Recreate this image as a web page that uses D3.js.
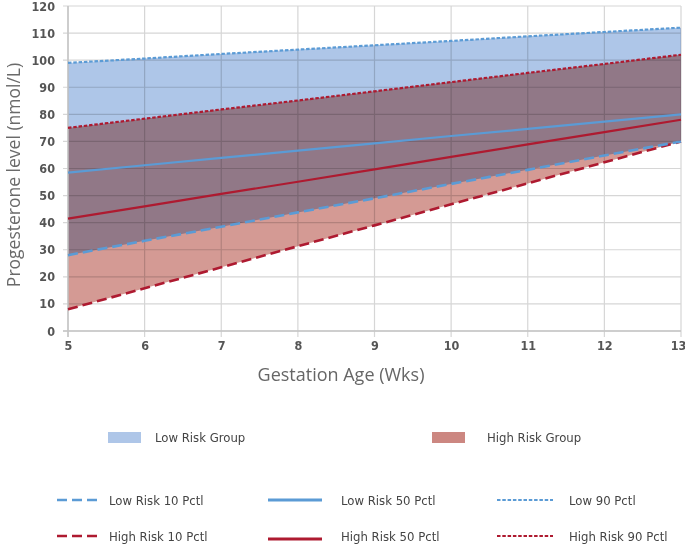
<!DOCTYPE html>
<html><head><meta charset="utf-8">
<script src="https://cdn.jsdelivr.net/npm/d3@7"></script>
<style>
body{margin:0;background:#fff;}
svg{display:block;}
</style></head>
<body><svg id="c" width="685" height="544"></svg>
<script>
const weeks = [5,6,7,8,9,10,11,12,13];
const low10  = [28, 33.3, 38.5, 43.8, 49, 54.3, 59.5, 64.8, 70];
const low50  = [58.5, 61.2, 63.9, 66.6, 69.3, 72, 74.6, 77.3, 80];
const low90  = [99, 100.6, 102.3, 103.9, 105.5, 107.1, 108.8, 110.4, 112];
const high10 = [8, 15.8, 23.5, 31.3, 39, 46.8, 54.5, 62.3, 70];
const high50 = [41.5, 46, 50.6, 55.1, 59.7, 64.3, 68.9, 73.4, 78];
const high90 = [75, 78.4, 81.8, 85.1, 88.5, 91.9, 95.3, 98.6, 102];
const yTicks = [0,10,20,30,40,50,60,70,80,90,100,110,120];
const groupLegend = ["Low Risk Group","High Risk Group"];
const lineLegend = ["Low Risk 10 Pctl","Low Risk 50 Pctl","Low 90 Pctl","High Risk 10 Pctl","High Risk 50 Pctl","High Risk 90 Pctl"];

const BLUE_FILL="#aec6e8", RED_FILL="#d49a94", BLUE="#5b9bd5", RED="#ae1a30";
const svg = d3.select("#c");
const L=68, R=681, T=6, B=331;
const x = d3.scaleLinear().domain([5,13]).range([L,R]);
const y = d3.scaleLinear().domain([0,120]).range([B,T]);
const narrow = "'Liberation Sans Narrow','DejaVu Sans Condensed',sans-serif";

const area = (lo,hi)=>d3.area().x((d,i)=>x(weeks[i])).y0((d,i)=>y(lo[i])).y1((d,i)=>y(hi[i]))(weeks);
const line = (v)=>d3.line().x((d,i)=>x(weeks[i])).y((d,i)=>y(v[i]))(weeks);

svg.append("path").attr("d",area(low10,low90)).attr("fill",BLUE_FILL);
svg.append("path").attr("d",area(high10,high90)).attr("fill",RED_FILL).style("mix-blend-mode","multiply");

// grid
const g = svg.append("g").style("mix-blend-mode","multiply");
g.selectAll(".h").data(yTicks).join("line")
 .attr("x1",L-5).attr("x2",R).attr("y1",d=>y(d)).attr("y2",d=>y(d))
 .attr("stroke","#d6d6d6").attr("stroke-width",1.2);
g.selectAll(".v").data(weeks).join("line")
 .attr("x1",d=>x(d)).attr("x2",d=>x(d)).attr("y1",T).attr("y2",B+6)
 .attr("stroke","#d6d6d6").attr("stroke-width",1.2);
svg.append("line").attr("x1",L).attr("x2",L).attr("y1",T).attr("y2",B+6).attr("stroke","#c4c4c4").attr("stroke-width",1.5);
svg.append("line").attr("x1",L-5).attr("x2",R).attr("y1",B).attr("y2",B).attr("stroke","#c4c4c4").attr("stroke-width",1.5);

// lines
const styles = {
  dash:{w:2.6,da:"10,5"}, solid:{w:2.2,da:null}, dot:{w:2.2,da:"3.5,1.8"}
};
function drawLine(v,color,st){
  svg.append("path").attr("d",line(v)).attr("fill","none").attr("stroke",color)
   .attr("stroke-width",styles[st].w).attr("stroke-dasharray",styles[st].da);
}
drawLine(low90,BLUE,"dot");
drawLine(high90,RED,"dot");
drawLine(low50,BLUE,"solid");
drawLine(high50,RED,"solid");
drawLine(high10,RED,"dash");
drawLine(low10,BLUE,"dash");

// axes labels
const yAxis = d3.axisLeft(y).tickValues(yTicks).tickSize(0).tickPadding(0);
const ya = svg.append("g").attr("transform",`translate(${L-13},0)`).call(yAxis);
ya.select(".domain").remove();
ya.selectAll("text").attr("font-family",narrow).attr("font-weight","bold").attr("font-size",12.5).attr("fill","#555");
const xAxis = d3.axisBottom(x).tickValues(weeks).tickSize(0).tickPadding(0);
const xa = svg.append("g").attr("transform",`translate(0,${B+10})`).call(xAxis);
xa.select(".domain").remove();
xa.selectAll("text").attr("font-family",narrow).attr("font-weight","bold").attr("font-size",12.5).attr("fill","#555");
xa.selectAll(".tick").filter(d=>d===13).select("text").attr("dx",-3);

svg.append("text").attr("x",341).attr("y",381).attr("text-anchor","middle")
 .attr("font-family","'Open Sans',sans-serif").attr("font-size",18).attr("fill","#666")
 .text("Gestation Age (Wks)");
svg.append("text").attr("transform","translate(20,175) rotate(-90)").attr("text-anchor","middle")
 .attr("font-family","'Open Sans',sans-serif").attr("font-size",17.5).attr("fill","#6a6a6a")
 .text("Progesterone level (nmol/L)");

// legend groups
const lg = [{x:108,tx:155,c:BLUE_FILL},{x:432,tx:487,c:"#cc8781"}];
lg.forEach((d,i)=>{
  svg.append("rect").attr("x",d.x).attr("y",432).attr("width",33).attr("height",11).attr("fill",d.c);
  svg.append("text").attr("x",d.tx).attr("y",442).attr("font-family",narrow).attr("font-size",13).attr("fill","#444").text(groupLegend[i]);
});
// legend lines
const cols=[{x1:57,x2:100,tx:109},{x1:268,x2:322,tx:341},{x1:497,x2:553,tx:569}];
const rows=[{y:500,c:BLUE},{y:536,c:RED}];
const stl=["dash","solid","dot"];
rows.forEach((r,ri)=>cols.forEach((c,ci)=>{
  const st=styles[stl[ci]];
  const ly = (ci===1 && ri===1) ? r.y+3 : r.y;
  svg.append("line").attr("x1",c.x1).attr("x2",c.x2).attr("y1",ly).attr("y2",ly)
   .attr("stroke",r.c).attr("stroke-width",ci===1?2.8:st.w).attr("stroke-dasharray",st.da);
  svg.append("text").attr("x",c.tx).attr("y",r.y+5).attr("font-family",narrow).attr("font-size",13).attr("fill","#444")
   .text(lineLegend[ri*3+ci]);
}));
</script></body></html>
